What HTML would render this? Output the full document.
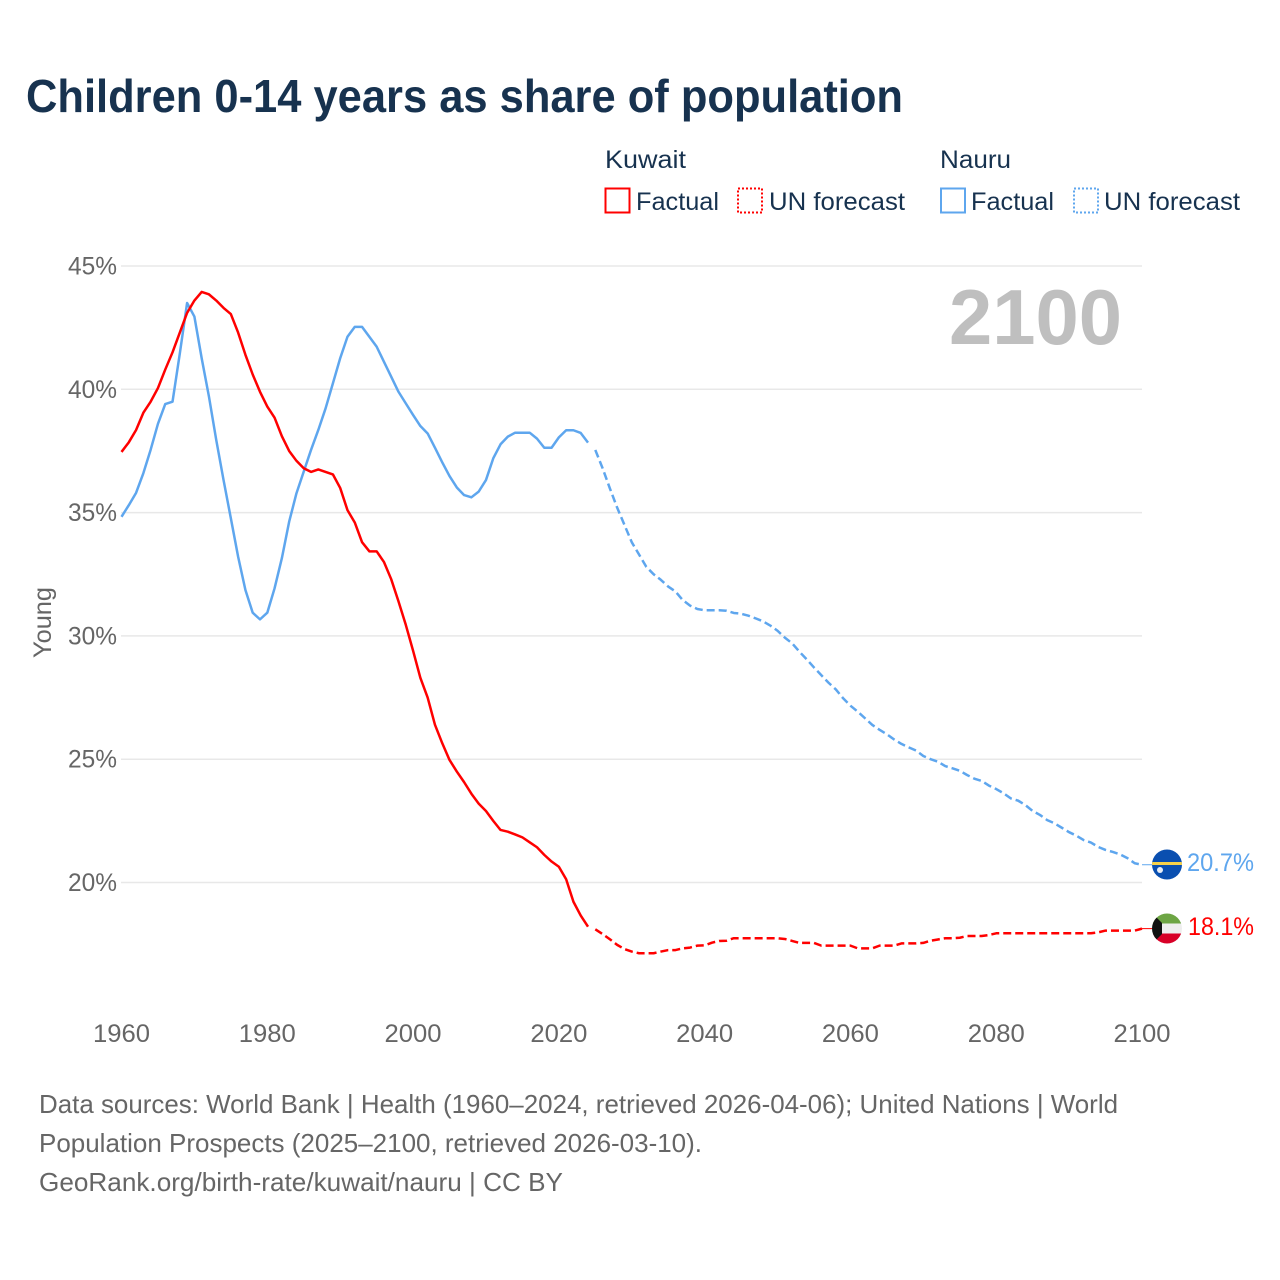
<!DOCTYPE html>
<html lang="en">
<head>
<meta charset="utf-8">
<title>Children 0-14 years as share of population</title>
<style>
html,body{margin:0;padding:0;background:#fff;}
svg{display:block;}
text{font-family:"Liberation Sans",sans-serif;}
</style>
</head>
<body>
<svg id="chart" xmlns="http://www.w3.org/2000/svg" width="1280" height="1280" viewBox="0 0 1280 1280">
  <defs>
    <clipPath id="nauru-clip"><circle cx="1167" cy="864.5" r="15"/></clipPath>
    <clipPath id="kuwait-clip"><circle cx="1167" cy="928.5" r="15"/></clipPath>
  </defs>
  <rect x="0" y="0" width="1280" height="1280" fill="#fff"/>
  <text x="26" y="112" font-size="46" font-weight="700" fill="#17324f" textLength="877" lengthAdjust="spacingAndGlyphs">Children 0-14 years as share of population</text>

  <g font-size="25" fill="#17324f">
    <text x="605" y="168" textLength="81" lengthAdjust="spacingAndGlyphs">Kuwait</text>
    <rect x="605.5" y="188.5" width="24" height="24" fill="none" stroke="#ff0000" stroke-width="2"/>
    <text x="636" y="210" textLength="83" lengthAdjust="spacingAndGlyphs">Factual</text>
    <rect x="738" y="188.5" width="24" height="24" fill="none" stroke="#ff0000" stroke-width="2" stroke-dasharray="2 2"/>
    <text x="769" y="210" textLength="136" lengthAdjust="spacingAndGlyphs">UN forecast</text>
    <text x="940" y="168" textLength="71" lengthAdjust="spacingAndGlyphs">Nauru</text>
    <rect x="941" y="188.5" width="24" height="24" fill="none" stroke="#5ea6ee" stroke-width="2"/>
    <text x="971" y="210" textLength="83" lengthAdjust="spacingAndGlyphs">Factual</text>
    <rect x="1074" y="188.5" width="24" height="24" fill="none" stroke="#5ea6ee" stroke-width="2" stroke-dasharray="2 2"/>
    <text x="1104" y="210" textLength="136" lengthAdjust="spacingAndGlyphs">UN forecast</text>
  </g>

  <g id="grid-layer"></g>
  <g id="ytick-layer"></g>
  <g id="xtick-layer"></g>
  <text transform="translate(51,622.5) rotate(-90)" text-anchor="middle" font-size="25" fill="#666" textLength="71" lengthAdjust="spacingAndGlyphs">Young</text>
  <text x="949" y="344" font-size="78" font-weight="700" fill="#bfbfbf" textLength="173" lengthAdjust="spacingAndGlyphs">2100</text>

  <g id="series-layer"></g>

  <g clip-path="url(#nauru-clip)">
    <rect x="1150" y="848" width="34" height="34" fill="#0a4fb0"/>
    <rect x="1150" y="862" width="34" height="3" fill="#f7d24a"/>
    <circle cx="1160" cy="870" r="3" fill="#e8edf5"/>
  </g>
  <g clip-path="url(#kuwait-clip)">
    <rect x="1150" y="912" width="34" height="11.5" fill="#6da544"/>
    <rect x="1150" y="923.5" width="34" height="10" fill="#eeeeee"/>
    <rect x="1150" y="933.5" width="34" height="12" fill="#d80027"/>
    <polygon points="1150,911 1162,923 1162,934 1150,946" fill="#111"/>
  </g>
  <text x="1187" y="871" font-size="25" fill="#5ea6ee" textLength="67" lengthAdjust="spacingAndGlyphs">20.7%</text>
  <text x="1188" y="935" font-size="25" fill="#ff0000" textLength="66" lengthAdjust="spacingAndGlyphs">18.1%</text>

  <g font-size="26" fill="#666">
    <text x="39" y="1113" textLength="1079" lengthAdjust="spacingAndGlyphs">Data sources: World Bank | Health (1960–2024, retrieved 2026-04-06); United Nations | World</text>
    <text x="39" y="1152" textLength="663" lengthAdjust="spacingAndGlyphs">Population Prospects (2025–2100, retrieved 2026-03-10).</text>
    <text x="39" y="1191" textLength="524" lengthAdjust="spacingAndGlyphs">GeoRank.org/birth-rate/kuwait/nauru | CC BY</text>
  </g>
</svg>
<script>
const factualStartYear = 1960;
const forecastStartYear = 2025;
const xTickLabels = ["1960","1980","2000","2020","2040","2060","2080","2100"];
const yTickLabels = ["45%","40%","35%","30%","25%","20%"];
const yTickValues = [45,40,35,30,25,20];
const kuwaitFactual = [37.46,37.85,38.35,39.05,39.5,40.05,40.8,41.5,42.3,43.1,43.6,43.95,43.85,43.6,43.3,43.05,42.3,41.4,40.6,39.9,39.3,38.85,38.1,37.5,37.1,36.8,36.65,36.75,36.65,36.55,36.0,35.1,34.6,33.8,33.43,33.43,33.0,32.3,31.4,30.45,29.4,28.3,27.5,26.4,25.65,24.97,24.5,24.07,23.6,23.2,22.9,22.5,22.13,22.06,21.95,21.83,21.63,21.43,21.12,20.85,20.64,20.13,19.22,18.66,18.21];
const kuwaitForecast = [18.1,17.91,17.7,17.47,17.3,17.2,17.13,17.13,17.13,17.2,17.26,17.26,17.33,17.36,17.44,17.45,17.56,17.63,17.64,17.74,17.74,17.74,17.74,17.74,17.74,17.74,17.71,17.63,17.55,17.55,17.55,17.44,17.44,17.44,17.44,17.44,17.33,17.33,17.33,17.44,17.44,17.44,17.53,17.53,17.53,17.55,17.64,17.69,17.74,17.74,17.76,17.83,17.83,17.83,17.87,17.94,17.94,17.94,17.94,17.94,17.94,17.94,17.94,17.94,17.94,17.94,17.94,17.94,17.94,17.98,18.05,18.05,18.05,18.05,18.05,18.13];
const nauruFactual = [34.83,35.3,35.8,36.6,37.55,38.6,39.4,39.5,41.45,43.5,42.95,41.26,39.7,37.94,36.32,34.77,33.21,31.86,30.94,30.67,30.94,31.93,33.15,34.63,35.78,36.66,37.54,38.35,39.23,40.24,41.26,42.13,42.53,42.53,42.13,41.73,41.12,40.51,39.9,39.43,38.96,38.51,38.21,37.63,37.04,36.48,36.02,35.71,35.62,35.85,36.32,37.2,37.77,38.08,38.24,38.24,38.24,38.0,37.63,37.63,38.05,38.34,38.34,38.23,37.84];
const nauruForecast = [37.54,36.8,35.98,35.2,34.5,33.8,33.3,32.8,32.5,32.27,32.0,31.8,31.45,31.23,31.09,31.04,31.04,31.04,31.02,30.93,30.9,30.82,30.71,30.59,30.42,30.21,29.93,29.7,29.36,29.05,28.72,28.41,28.1,27.83,27.47,27.17,26.93,26.66,26.39,26.19,26.01,25.8,25.62,25.48,25.35,25.13,25.0,24.9,24.72,24.63,24.53,24.36,24.21,24.12,23.93,23.79,23.62,23.41,23.32,23.14,22.9,22.74,22.53,22.4,22.22,22.04,21.9,21.72,21.62,21.44,21.32,21.24,21.14,20.99,20.78,20.72];

const SVG_NS = "http://www.w3.org/2000/svg";
function xScale(year){ return 121.5 + (year - 1960) * (1142 - 121.5) / 140; }
function yScale(pct){ return 266 + (45 - pct) * (882.5 - 266) / 25; }
function linePath(values, startYear){
  return values.map(function(v,i){
    return (i ? "L" : "M") + xScale(startYear + i).toFixed(2) + " " + yScale(v).toFixed(2);
  }).join("");
}
function make(tag, attrs){
  const el = document.createElementNS(SVG_NS, tag);
  Object.keys(attrs).forEach(function(k){ el.setAttribute(k, attrs[k]); });
  return el;
}

const gridLayer = document.getElementById("grid-layer");
const yTickLayer = document.getElementById("ytick-layer");
const xTickLayer = document.getElementById("xtick-layer");
const seriesLayer = document.getElementById("series-layer");

yTickValues.forEach(function(v,i){
  const line = make("line",{x1:121,x2:1142,y1:yScale(v),y2:yScale(v),stroke:"#e8e8e8","stroke-width":1.5});
  
  
  gridLayer.appendChild(line);
  const t = make("text",{x:68,y:yScale(v)+8.5,"font-size":25,fill:"#666",textLength:49,lengthAdjust:"spacingAndGlyphs"});
  
  
  t.textContent = yTickLabels[i];
  yTickLayer.appendChild(t);
});

xTickLabels.forEach(function(label){
  const t = make("text",{x:xScale(Number(label))-28.5,y:1042,"font-size":25,fill:"#666",textLength:57,lengthAdjust:"spacingAndGlyphs"});
  
  
  t.textContent = label;
  xTickLayer.appendChild(t);
});

function addLine(values, startYear, color, dashed, name){
  const p = make("path",{d:linePath(values,startYear),fill:"none",stroke:color,"stroke-width":2.5,"stroke-linejoin":"round"});
  if (dashed) p.setAttribute("stroke-dasharray","8 4");
  
  
  seriesLayer.appendChild(p);
}
addLine(nauruFactual, factualStartYear, "#5ea6ee", false, "nauru-factual-line");
addLine(nauruForecast, forecastStartYear, "#5ea6ee", true, "nauru-forecast-line");
addLine(kuwaitFactual, factualStartYear, "#ff0000", false, "kuwait-factual-line");
addLine(kuwaitForecast, forecastStartYear, "#ff0000", true, "kuwait-forecast-line");

function addConnector(lastValue, color, name){
  const c = make("line",{x1:xScale(2100),x2:1153,y1:yScale(lastValue),y2:yScale(lastValue),stroke:color,"stroke-width":1});
  
  
  seriesLayer.appendChild(c);
}
addConnector(nauruForecast[nauruForecast.length-1], "#5ea6ee", "nauru-flag-connector");
addConnector(kuwaitForecast[kuwaitForecast.length-1], "#ff0000", "kuwait-flag-connector");
</script>
</body>
</html>
